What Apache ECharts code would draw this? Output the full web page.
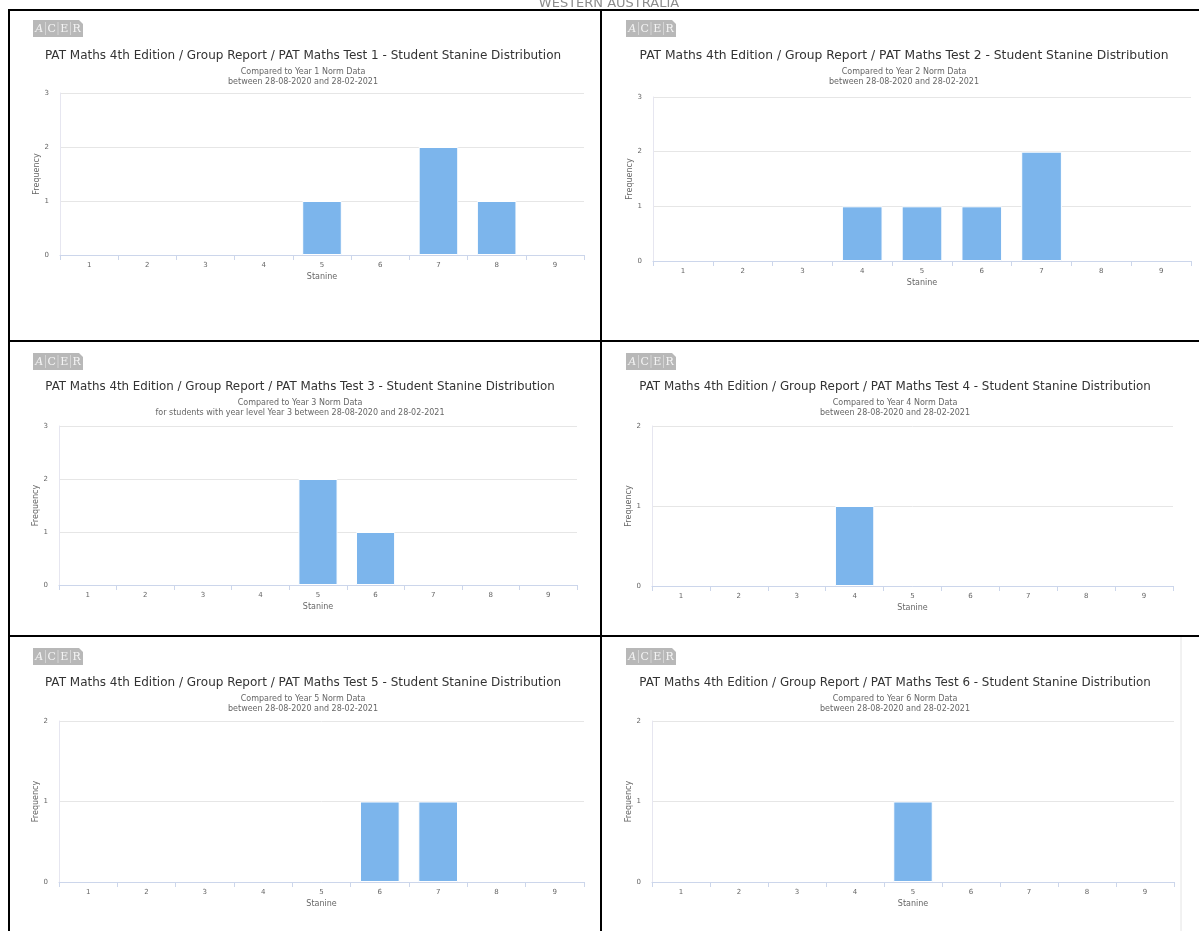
<!DOCTYPE html>
<html>
<head>
<meta charset="utf-8">
<title>PAT Maths Stanine Distribution</title>
<script src="https://cdn.jsdelivr.net/npm/echarts@6/dist/echarts.min.js"></script>
<style>
  html, body { margin: 0; padding: 0; background: #fff; }
  #chart { width: 1199px; height: 931px; }
</style>
</head>
<body>
<div id="chart"></div>
<script>
// Stanine categories shared by every test
const stanines = ['1', '2', '3', '4', '5', '6', '7', '8', '9'];

// Student counts per stanine, one array per test
const test1Counts = [0, 0, 0, 0, 1, 0, 2, 1, 0];
const test2Counts = [0, 0, 0, 1, 1, 1, 2, 0, 0];
const test3Counts = [0, 0, 0, 0, 2, 1, 0, 0, 0];
const test4Counts = [0, 0, 0, 1, 0, 0, 0, 0, 0];
const test5Counts = [0, 0, 0, 0, 0, 1, 1, 0, 0];
const test6Counts = [0, 0, 0, 0, 1, 0, 0, 0, 0];

// Top of each frequency axis
const freqMax = [3, 3, 3, 2, 2, 2];

const reportTitles = [
  'PAT Maths 4th Edition / Group Report / PAT Maths Test 1 - Student Stanine Distribution',
  'PAT Maths 4th Edition / Group Report / PAT Maths Test 2 - Student Stanine Distribution',
  'PAT Maths 4th Edition / Group Report / PAT Maths Test 3 - Student Stanine Distribution',
  'PAT Maths 4th Edition / Group Report / PAT Maths Test 4 - Student Stanine Distribution',
  'PAT Maths 4th Edition / Group Report / PAT Maths Test 5 - Student Stanine Distribution',
  'PAT Maths 4th Edition / Group Report / PAT Maths Test 6 - Student Stanine Distribution'
];
const reportSubtitles = [
  'Compared to Year 1 Norm Data\nbetween 28-08-2020 and 28-02-2021',
  'Compared to Year 2 Norm Data\nbetween 28-08-2020 and 28-02-2021',
  'Compared to Year 3 Norm Data\nfor students with year level Year 3 between 28-08-2020 and 28-02-2021',
  'Compared to Year 4 Norm Data\nbetween 28-08-2020 and 28-02-2021',
  'Compared to Year 5 Norm Data\nbetween 28-08-2020 and 28-02-2021',
  'Compared to Year 6 Norm Data\nbetween 28-08-2020 and 28-02-2021'
];
const allCounts = [test1Counts, test2Counts, test3Counts, test4Counts, test5Counts, test6Counts];

// Panel layout: plot box, title centre and size, logo corner
const panels = [
  { left: 60,  top: 93,  width: 524, height: 162, titleX: 303, titleY: 50,  titleSize: 12,   logoX: 33,  logoY: 20 },
  { left: 653, top: 97,  width: 538, height: 164, titleX: 904, titleY: 50,  titleSize: 12.3, logoX: 626, logoY: 20 },
  { left: 59,  top: 426, width: 518, height: 159, titleX: 300, titleY: 381, titleSize: 11.85, logoX: 33,  logoY: 353 },
  { left: 652, top: 426, width: 521, height: 160, titleX: 895, titleY: 381, titleSize: 11.9, logoX: 626, logoY: 353 },
  { left: 59,  top: 721, width: 525, height: 161, titleX: 303, titleY: 677, titleSize: 12,   logoX: 33,  logoY: 648 },
  { left: 652, top: 721, width: 522, height: 161, titleX: 895, titleY: 677, titleSize: 11.9, logoX: 626, logoY: 648 }
];

const FONT = 'DejaVu Sans';
const LABEL = '#666666';
const BAR = '#7cb5ec';

const grids = [], xAxes = [], yAxes = [], series = [], titles = [], graphics = [];

// ACER badge: grey block with four lettered cells
function logo(x, y) {
  const w = 50, h = 17, cell = w / 4;
  const children = [
    { type: 'rect', shape: { x: 0, y: 0, width: w, height: h }, style: { fill: '#b8b8b8' } }
  ];
  ['A', 'C', 'E', 'R'].forEach((ch, i) => {
    if (i > 0) {
      children.push({ type: 'line', shape: { x1: i * cell, y1: 2, x2: i * cell, y2: h - 2 },
        style: { stroke: '#e0e0e0', lineWidth: 0.7 } });
    }
    children.push({ type: 'text', x: i * cell + cell / 2, y: h / 2 + 1,
      style: { text: ch, fill: '#f4f4f4', font: (i === 0 ? 'italic ' : '') + '11px "DejaVu Serif"',
        align: 'center', verticalAlign: 'middle' } });
  });
  children.push({ type: 'polygon', shape: { points: [[w - 4, 0], [w, 0], [w, 4]] }, style: { fill: '#ffffff' } });
  return { type: 'group', x: x, y: y, children: children };
}

panels.forEach((p, i) => {
  grids.push({ left: p.left, top: p.top, width: p.width, height: p.height, containLabel: false });
  xAxes.push({
    type: 'category', gridIndex: i, data: stanines,
    boundaryGap: true,
    name: 'Stanine', nameLocation: 'middle', nameGap: 18,
    nameTextStyle: { color: LABEL, fontFamily: FONT, fontSize: 8 },
    axisLine: { lineStyle: { color: '#ccd6eb', width: 1 } },
    axisTick: { show: true, length: 5, alignWithLabel: false, lineStyle: { color: '#ccd6eb' } },
    axisLabel: { color: LABEL, fontFamily: FONT, fontSize: 7, margin: 7 },
    splitLine: { show: false }
  });
  yAxes.push({
    type: 'value', gridIndex: i, min: 0, max: freqMax[i], interval: 1,
    name: 'Frequency', nameLocation: 'middle', nameGap: 19, nameRotate: 90,
    nameTextStyle: { color: LABEL, fontFamily: FONT, fontSize: 8 },
    axisLine: { show: true, lineStyle: { color: '#e6e6f0', width: 1 } },
    axisTick: { show: false },
    axisLabel: { color: LABEL, fontFamily: FONT, fontSize: 7, margin: 11 },
    splitLine: { show: true, lineStyle: { color: '#e6e6e6', width: 1 } }
  });
  series.push({
    type: 'bar', xAxisIndex: i, yAxisIndex: i,
    // empty stanines get no outline so the axis line stays unbroken
    data: allCounts[i].map(v => ({ value: v, itemStyle: { borderWidth: v > 0 ? 1 : 0 } })),
    barWidth: '68%',
    itemStyle: { color: BAR, borderColor: '#ffffff', borderWidth: 1 },
    emphasis: { disabled: true }
  });
  titles.push({
    text: reportTitles[i], subtext: reportSubtitles[i],
    left: p.titleX, top: p.titleY, textAlign: 'center', padding: 0, itemGap: 4,
    textStyle: { color: '#333333', fontFamily: FONT, fontSize: p.titleSize, fontWeight: 'normal' },
    subtextStyle: { color: LABEL, fontFamily: 'DejaVu Sans Condensed', fontSize: 8.9, lineHeight: 10.5 }
  });
  graphics.push(logo(p.logoX, p.logoY));
});

// Page heading, partly cut off at the top edge
graphics.push({ type: 'text', x: 609, y: -3,
  style: { text: 'WESTERN AUSTRALIA', fill: '#8c8c8c', font: '13px "DejaVu Sans"', align: 'center' } });

// Panel frames
const black = { stroke: '#000000', lineWidth: 2 };
[
  [8, 10, 1199, 10],
  [8, 341, 1199, 341],
  [8, 636, 1199, 636],
  [9, 10, 9, 931],
  [601, 10, 601, 931]
].forEach(l => graphics.push({ type: 'line', shape: { x1: l[0], y1: l[1], x2: l[2], y2: l[3] }, style: black }));
graphics.push({ type: 'line', shape: { x1: 1181, y1: 637, x2: 1181, y2: 931 }, style: { stroke: '#e4e4e4', lineWidth: 1 } });

const chart = echarts.init(document.getElementById('chart'), null, { renderer: 'canvas' });
chart.setOption({
  animation: false,
  backgroundColor: '#ffffff',
  title: titles,
  grid: grids,
  xAxis: xAxes,
  yAxis: yAxes,
  series: series,
  graphic: graphics
});
</script>
</body>
</html>
